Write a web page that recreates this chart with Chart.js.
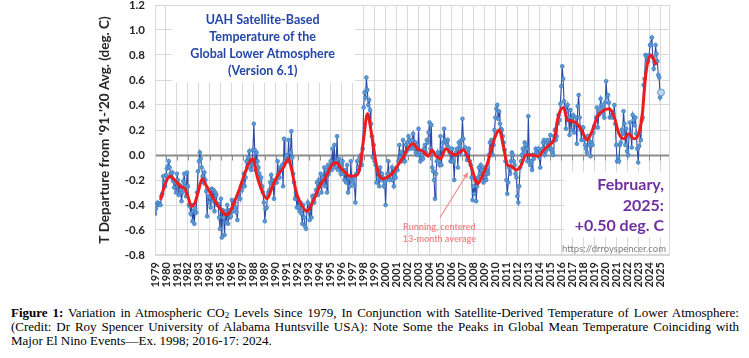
<!DOCTYPE html>
<html>
<head>
<meta charset="utf-8">
<script src="https://cdn.jsdelivr.net/npm/chart.js@4.4.1/dist/chart.umd.min.js"></script>
<style>
  html, body { margin: 0; padding: 0; background: #fff; width: 749px; height: 358px; overflow: hidden; }
  #wrap { position: absolute; left: 0; top: 0; width: 749px; height: 295px; }
  #caption {
    position: absolute; left: 11px; top: 306px; width: 728px;
    font-family: "Liberation Serif", "Times New Roman", serif;
    font-size: 13px; line-height: 14px; text-align: justify; color: #000;
  }
  #caption sub { font-size: 9px; vertical-align: -1px; line-height: 0; }
</style>
</head>
<body>
<div id="wrap"><canvas id="uahChart" width="749" height="295"></canvas></div>
<div id="caption"><b>Figure 1:</b> Variation in Atmospheric CO<sub>2</sub> Levels Since 1979, In Conjunction with Satellite-Derived Temperature of Lower Atmosphere: (Credit: Dr Roy Spencer University of Alabama Huntsville USA): Note Some the Peaks in Global Mean Temperature Coinciding with Major El Nino Events—Ex. 1998; 2016-17: 2024.</div>
<script>
// monthly anomaly, deg C vs 1991-2020, starting Jan 1979
const startYear = 1979;
const monthlyAnomaly = [
  -0.47,-0.43,-0.39,-0.38,-0.40,-0.39,-0.40,-0.33,-0.31,-0.17,-0.22,-0.25, // 1979
  -0.16,-0.11,-0.09,-0.05,-0.10,-0.15,-0.18,-0.14,-0.21,-0.26,-0.22,-0.30, // 1980
  -0.15,-0.20,-0.32,-0.24,-0.28,-0.37,-0.30,-0.21,-0.15,-0.25,-0.33,-0.14, // 1981
  -0.25,-0.40,-0.41,-0.47,-0.40,-0.53,-0.45,-0.55,-0.43,-0.46,-0.30,-0.13, // 1982
  -0.05, 0.02,-0.03,-0.10,-0.17,-0.22,-0.14,-0.20,-0.29,-0.49,-0.33,-0.38, // 1983
  -0.34,-0.42,-0.27,-0.37,-0.28,-0.45,-0.30,-0.32,-0.40,-0.39,-0.50,-0.59, // 1984
  -0.35,-0.66,-0.44,-0.50,-0.64,-0.45,-0.54,-0.40,-0.55,-0.44,-0.50,-0.49, // 1985
  -0.36,-0.45,-0.40,-0.38,-0.42,-0.46,-0.52,-0.33,-0.30,-0.35,-0.25,-0.28, // 1986
  -0.22,-0.15,-0.25,-0.18,-0.05,-0.10,-0.02, 0.03,-0.05,-0.12,-0.08, 0.04, // 1987
   0.25, 0.04,-0.12, 0.02,-0.05,-0.10,-0.15,-0.20,-0.18,-0.25,-0.30,-0.38, // 1988
  -0.53,-0.43,-0.42,-0.33,-0.30,-0.28,-0.22,-0.16,-0.20,-0.24,-0.35,-0.22, // 1989
  -0.20,-0.22,-0.05,-0.15,-0.18,-0.10,-0.12,-0.08,-0.25, 0.13,-0.05,-0.02, // 1990
   0.00,-0.05, 0.12,-0.05, 0.02, 0.19,-0.02,-0.15,-0.22,-0.35,-0.30,-0.42, // 1991
  -0.35,-0.42,-0.45,-0.38,-0.47,-0.55,-0.40,-0.50,-0.57,-0.59,-0.45,-0.38, // 1992
  -0.45,-0.52,-0.40,-0.50,-0.33,-0.36,-0.38,-0.32,-0.28,-0.22,-0.32,-0.20, // 1993
  -0.25,-0.15,-0.30,-0.18,-0.22,-0.10,-0.25,-0.12,-0.30,-0.08,-0.15,-0.10, // 1994
  -0.05,-0.12, 0.05,-0.08, 0.08,-0.10,-0.05, 0.15,-0.12,-0.03,-0.08,-0.15, // 1995
  -0.08,-0.05,-0.15,-0.20,-0.12,-0.22,-0.08,-0.30,-0.18,-0.25,-0.05,-0.20, // 1996
  -0.22,-0.18,-0.25,-0.38,-0.15,-0.05,-0.10,-0.12,-0.02, 0.00,-0.08, 0.05, // 1997
   0.38, 0.50, 0.46, 0.62, 0.52, 0.40, 0.44, 0.36, 0.25, 0.15,-0.02, 0.08, // 1998
  -0.05,-0.08,-0.22,-0.12,-0.18,-0.25,-0.10,-0.20,-0.15,-0.18,-0.25,-0.22, // 1999
  -0.40,-0.20,-0.15,-0.05,-0.18,-0.20,-0.15,-0.10,-0.20,-0.25,-0.15,-0.18, // 2000
  -0.10,-0.12,-0.05, 0.08,-0.02, 0.02,-0.05, 0.12, 0.00,-0.05, 0.08, 0.03, // 2001
   0.10, 0.15, 0.12, 0.05, 0.08, 0.12, 0.17, 0.05, 0.10, 0.02, 0.08, 0.00, // 2002
   0.21, 0.02,-0.05,-0.02, 0.00,-0.03, 0.05, 0.08, 0.02, 0.12, 0.10, 0.18, // 2003
   0.26, 0.05, 0.24,-0.10,-0.13,-0.20,-0.35,-0.15,-0.05, 0.02,-0.05,-0.08, // 2004
   0.15,-0.08, 0.05, 0.10, 0.21, 0.12, 0.10, 0.08, 0.12, 0.06, 0.02,-0.05, // 2005
  -0.05, 0.05,-0.05,-0.20, 0.00, 0.02, 0.05,-0.10, 0.10, 0.07, 0.02, 0.12, // 2006
   0.29, 0.13, 0.05, 0.06, 0.00,-0.04, 0.02, 0.05,-0.05,-0.08,-0.18,-0.36, // 2007
  -0.25,-0.31,-0.20,-0.37,-0.25,-0.18,-0.10,-0.15,-0.08,-0.12,-0.16,-0.22, // 2008
  -0.10,-0.18,-0.20,-0.12,-0.15, 0.00, 0.10, 0.05, 0.12, 0.00, 0.08, 0.20, // 2009
   0.30, 0.37, 0.40, 0.29, 0.35, 0.25, 0.21, 0.20, 0.15, 0.10, 0.04,-0.05, // 2010
  -0.20,-0.31,-0.22,-0.10,-0.15,-0.05, 0.02, 0.00,-0.05,-0.08,-0.15,-0.18, // 2011
  -0.33,-0.38,-0.25,-0.10,-0.05, 0.00, 0.05, 0.02, 0.10, 0.08, 0.05,-0.05, // 2012
   0.31, 0.00,-0.08,-0.05,-0.12, 0.00,-0.03, 0.00, 0.05, 0.02, 0.00, 0.05, // 2013
  -0.02,-0.10, 0.02, 0.05, 0.10, 0.12, 0.00, 0.03, 0.10, 0.12, 0.08, 0.05, // 2014
   0.16, 0.05, 0.02, 0.00, 0.15, 0.20, 0.12, 0.15, 0.25, 0.32, 0.28, 0.41, // 2015
   0.55, 0.71, 0.61, 0.43, 0.38, 0.21, 0.35, 0.40, 0.30, 0.16, 0.36, 0.20, // 2016
   0.30, 0.32, 0.18, 0.25, 0.30, 0.09, 0.39, 0.48, 0.30, 0.20, 0.12, 0.22, // 2017
   0.22, 0.12, 0.08, 0.05, 0.02, 0.15, 0.12, 0.08,-0.01, 0.10, 0.08, 0.18, // 2018
   0.23, 0.22, 0.30, 0.38, 0.22, 0.32, 0.35, 0.45, 0.40, 0.38, 0.33, 0.30, // 2019
   0.42, 0.59, 0.46, 0.48, 0.42, 0.30, 0.31, 0.32, 0.30, 0.33, 0.40, 0.25, // 2020
   0.08,-0.05,-0.02,-0.05, 0.08, 0.10, 0.20, 0.17, 0.35, 0.25, 0.08, 0.21, // 2021
   0.03, 0.00, 0.15, 0.26, 0.17, 0.06, 0.32, 0.28, 0.24, 0.30, 0.17, 0.05, // 2022
  -0.06, 0.07, 0.18, 0.12, 0.28, 0.30, 0.56, 0.61, 0.80, 0.79, 0.77, 0.75, // 2023
   0.80, 0.88, 0.88, 0.94, 0.78, 0.69, 0.74, 0.88, 0.81, 0.75, 0.64, 0.62, // 2024
   0.46, 0.50                                                               // 2025
];

// red curve, read at roughly half-year steps
const runningYears = [
  1979.5, 1979.9, 1980.35, 1980.8, 1981.3, 1981.7, 1982.0, 1982.3, 1982.6, 1982.95,
  1983.3, 1983.7, 1984.2, 1984.7, 1985.2, 1985.5, 1985.8, 1986.2, 1986.7, 1987.2,
  1987.6, 1987.9, 1988.3, 1988.8, 1989.2, 1989.7, 1990.2, 1990.7, 1991.15, 1991.45,
  1991.9, 1992.35, 1992.85, 1993.4, 1994.0, 1994.6, 1995.1, 1995.45, 1996.0, 1996.8,
  1997.4, 1997.7, 1998.0, 1998.35, 1998.7, 1999.1, 1999.4, 1999.8, 2000.3, 2000.7,
  2001.2, 2001.6, 2002.0, 2002.5, 2002.9, 2003.4, 2003.9, 2004.2, 2004.6, 2005.0,
  2005.5, 2005.9, 2006.3, 2006.7, 2007.1, 2007.5, 2007.9, 2008.35, 2008.8, 2009.3,
  2009.7, 2010.0, 2010.35, 2010.75, 2011.1, 2011.45, 2011.9, 2012.3, 2012.8, 2013.3,
  2013.9, 2014.4, 2014.9, 2015.4, 2015.7, 2016.2, 2016.55, 2017.0, 2017.45, 2017.9,
  2018.35, 2018.8, 2019.3, 2019.75, 2020.35, 2020.8, 2021.25, 2021.7, 2022.15, 2022.6,
  2023.05, 2023.38, 2023.7, 2024.15, 2024.45, 2024.66
];
const runningAvg = [
  -0.36, -0.24, -0.17, -0.20, -0.25, -0.27, -0.33, -0.41, -0.39, -0.29,
  -0.19, -0.25, -0.33, -0.40, -0.46, -0.48, -0.46, -0.38, -0.27, -0.14,
  -0.06, -0.03, -0.17, -0.30, -0.35, -0.25, -0.16, -0.10, -0.03, -0.12,
  -0.31, -0.40, -0.45, -0.37, -0.25, -0.17, -0.08, -0.06, -0.11, -0.17,
  -0.16, -0.08, 0.13, 0.33, 0.18, -0.05, -0.16, -0.19, -0.17, -0.14,
  -0.07, -0.02, 0.05, 0.09, 0.05, 0.03, -0.01, 0.04, -0.01, -0.03,
  0.05, 0.02, 0.00, 0.02, 0.04, -0.02, -0.12, -0.23, -0.17, -0.06,
  0.07, 0.15, 0.20, 0.06, -0.08, -0.09, -0.12, -0.09, 0.00, 0.00,
  -0.01, 0.04, 0.08, 0.14, 0.30, 0.38, 0.28, 0.27, 0.25, 0.19,
  0.12, 0.19, 0.31, 0.35, 0.37, 0.31, 0.17, 0.13, 0.17, 0.13,
  0.17, 0.33, 0.65, 0.80, 0.76, 0.72
];

const titleLines = ['UAH Satellite-Based', 'Temperature of the', 'Global Lower Atmosphere', '(Version 6.1)'];
const noteLines = ['February,', '2025:', '+0.50 deg. C'];
const avgNote = ['Running, centered', '13-month average'];
const siteNote = 'https://drroyspencer.com';

const monthlyPoints = monthlyAnomaly.map((v, i) => ({ x: startYear + i / 12, y: v }));
const runningPoints = runningYears.map((yr, i) => ({ x: yr, y: runningAvg[i] }));
const lastIdx = monthlyPoints.length - 1;

// white boxes, grid details, annotations
const decor = {
  id: 'decor',
  beforeDatasetsDraw(chart) {
    const { ctx, chartArea: a, scales: { x, y } } = chart;
    ctx.save();
    ctx.fillStyle = '#fff';
    // title box (top left) and note box (bottom right)
    let x0 = x.getPixelForValue(1980.55), x1 = x.getPixelForValue(1997.2);
    ctx.fillRect(x0, a.top + 1, x1 - x0, y.getPixelForValue(0.58) - a.top - 1);
    x0 = x.getPixelForValue(2016.3);
    ctx.fillRect(x0, y.getPixelForValue(-0.14), a.right - x0 - 1, y.getPixelForValue(-0.66) - y.getPixelForValue(-0.14));

    // zero line with small tick marks
    const y0 = Math.round(y.getPixelForValue(0)) + 0.5;
    ctx.strokeStyle = '#8c8c8c';
    ctx.lineWidth = 1;
    ctx.beginPath();
    for (let yr = 1979; yr <= 2025; yr++) {
      const px = Math.round(x.getPixelForValue(yr)) + 0.5;
      ctx.moveTo(px, y0); ctx.lineTo(px, y0 + 5);
    }
    ctx.stroke();
    ctx.lineWidth = 2;
    ctx.beginPath();
    ctx.moveTo(a.left, y0); ctx.lineTo(a.right, y0);
    ctx.stroke();

    // plot frame
    ctx.strokeStyle = '#d9d9d9';
    ctx.lineWidth = 1;
    ctx.strokeRect(a.left + 0.5, a.top + 0.5, a.right - a.left - 1, a.bottom - a.top - 1);
    ctx.restore();
  },
  afterDatasetsDraw(chart) {
    const { ctx, scales: { x, y } } = chart;
    ctx.save();
    ctx.textBaseline = 'middle';

    // title
    ctx.fillStyle = '#2446a8';
    ctx.font = 'bold 12.5px Lato';
    ctx.textAlign = 'center';
    titleLines.forEach((t, i) => ctx.fillText(t, x.getPixelForValue(1988.8), y.getPixelForValue(1.08 - i * 0.137)));

    // running average label + arrow
    ctx.fillStyle = '#f08a8c';
    ctx.strokeStyle = '#f08a8c';
    ctx.font = 'bold 9px Lato';
    avgNote.forEach((t, i) => ctx.fillText(t, x.getPixelForValue(2004.9), y.getPixelForValue(-0.576 - i * 0.096)));
    const ax0 = x.getPixelForValue(2004.96), ay0 = y.getPixelForValue(-0.50);
    const ax1 = x.getPixelForValue(2007.5), ay1 = y.getPixelForValue(-0.14);
    const ang = Math.atan2(ay1 - ay0, ax1 - ax0);
    ctx.lineWidth = 1.2;
    ctx.beginPath(); ctx.moveTo(ax0, ay0); ctx.lineTo(ax1, ay1); ctx.stroke();
    ctx.beginPath();
    ctx.moveTo(ax1, ay1);
    ctx.lineTo(ax1 - 6 * Math.cos(ang - 0.45), ay1 - 6 * Math.sin(ang - 0.45));
    ctx.lineTo(ax1 - 6 * Math.cos(ang + 0.45), ay1 - 6 * Math.sin(ang + 0.45));
    ctx.closePath(); ctx.fill();

    // latest value note
    ctx.fillStyle = '#7030a0';
    ctx.font = 'bold 16px Lato';
    ctx.textAlign = 'right';
    const nx = x.getPixelForValue(2025.35);
    noteLines.forEach((t, i) => ctx.fillText(t, nx, y.getPixelForValue(-0.24 - i * 0.165)));

    ctx.fillStyle = '#7f7f7f';
    ctx.font = '9.5px Lato';
    ctx.fillText(siteNote, nx + 2, y.getPixelForValue(-0.75));
    ctx.restore();
  }
};

new Chart(document.getElementById('uahChart').getContext('2d'), {
  type: 'line',
  data: {
    datasets: [
      {
        label: 'Running 13-month average',
        data: runningPoints,
        borderColor: '#ee1c1c',
        borderWidth: 3,
        pointRadius: 0,
        tension: 0.4,
        cubicInterpolationMode: 'monotone'
      },
      {
        label: 'Monthly',
        data: monthlyPoints,
        borderColor: '#2a4aa6',
        borderWidth: 1.1,
        pointRadius: ctx => ctx.dataIndex === lastIdx ? 3.5 : 1.9,
        pointBackgroundColor: ctx => ctx.dataIndex === lastIdx ? '#bcd3ec' : '#5b9bd5',
        pointBorderColor: '#3f7ac0',
        pointBorderWidth: 0.7,
        tension: 0
      }
    ]
  },
  plugins: [decor],
  options: {
    responsive: false,
    animation: false,
    layout: { padding: { top: 5, right: 79, left: 0, bottom: 0 } },
    plugins: { legend: { display: false }, tooltip: { enabled: false } },
    scales: {
      x: {
        type: 'linear',
        min: 1979,
        max: 2025.9,
        afterFit: s => { s.height = 40; s.paddingLeft = 0; s.paddingRight = 0; },
        grid: { color: '#d9d9d9', drawTicks: false },
        border: { display: false },
        ticks: {
          stepSize: 1,
          includeBounds: false,
          autoSkip: false,
          minRotation: 90,
          maxRotation: 90,
          padding: 7,
          color: '#262626',
          font: { family: 'Lato', size: 11, weight: 'bold' },
          callback: v => String(v)
        }
      },
      y: {
        min: -0.8,
        max: 1.2,
        afterFit: s => { s.width = 155; s.paddingTop = 0; s.paddingBottom = 0; },
        grid: { color: '#d9d9d9', drawTicks: false },
        border: { display: false },
        ticks: {
          stepSize: 0.2,
          padding: 10,
          color: '#262626',
          font: { family: 'Lato', size: 11.5, weight: 'bold' },
          callback: v => v.toFixed(1)
        },
        title: {
          display: true,
          text: "T Departure from '91-'20 Avg. (deg. C)",
          color: '#262626',
          font: { family: 'Lato', size: 13.5, weight: 'bold' },
          padding: { top: 97 }
        }
      }
    }
  }
});
</script>
</body>
</html>
